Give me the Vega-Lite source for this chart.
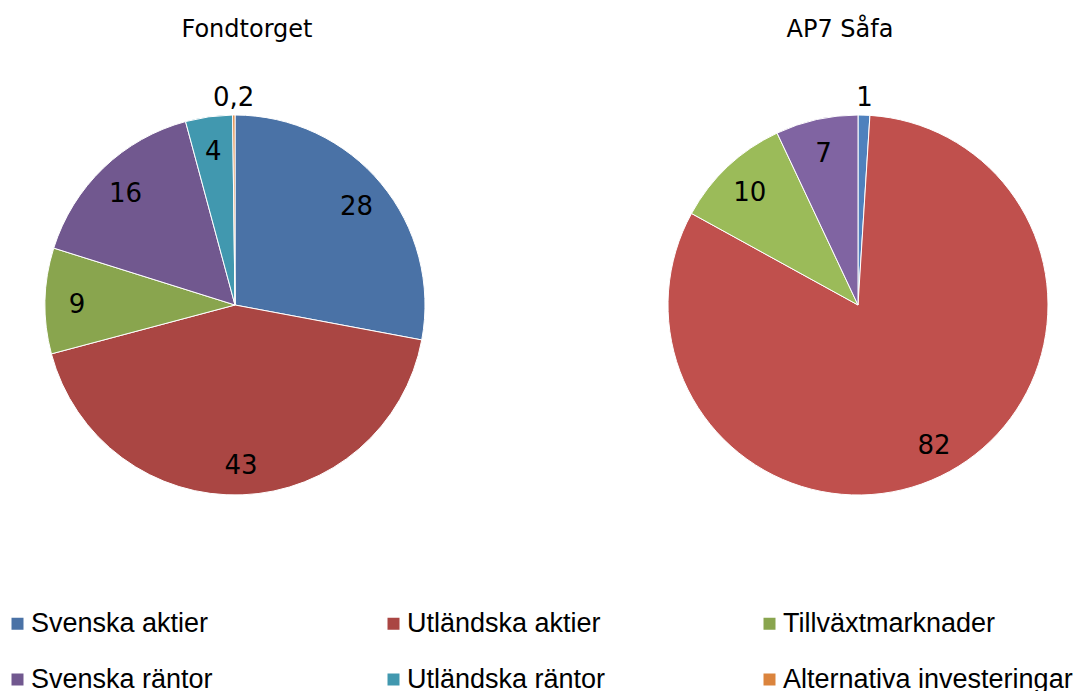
{
  "$schema": "https://vega.github.io/schema/vega-lite/v6.json",
  "background": "white",
  "padding": {"left": 4, "top": 18, "right": 0, "bottom": 0},
  "config": {"view": {"stroke": null}, "font": "DejaVu Sans"},
  "datasets": {
    "fond": [
      {"kategori": "Svenska aktier", "andel": 28, "etikett": "28", "ordning": 1},
      {"kategori": "Utländska aktier", "andel": 43, "etikett": "43", "ordning": 2},
      {"kategori": "Tillväxtmarknader", "andel": 9, "etikett": "9", "ordning": 3},
      {"kategori": "Svenska räntor", "andel": 16, "etikett": "16", "ordning": 4},
      {"kategori": "Utländska räntor", "andel": 4, "etikett": "4", "ordning": 5},
      {"kategori": "Alternativa investeringar", "andel": 0.2, "etikett": "0,2", "ordning": 6}
    ],
    "ap7": [
      {"kategori": "Svenska aktier", "andel": 1, "etikett": "1", "ordning": 1},
      {"kategori": "Utländska aktier", "andel": 82, "etikett": "82", "ordning": 2},
      {"kategori": "Tillväxtmarknader", "andel": 10, "etikett": "10", "ordning": 3},
      {"kategori": "Svenska räntor", "andel": 7, "etikett": "7", "ordning": 4}
    ]
  },
  "bounds": "flush",
  "hconcat": [
    {
      "width": 380,
      "height": 380,
      "data": {"name": "fond"},
      "title": {"text": "Fondtorget", "fontSize": 24, "font": "DejaVu Sans", "fontWeight": "normal", "color": "black", "dx": 12, "offset": 43},
      "encoding": {
        "theta": {"field": "andel", "type": "quantitative", "stack": true},
        "order": {"field": "ordning", "type": "quantitative"}
      },
      "layer": [
        {
          "mark": {"type": "arc", "outerRadius": 190, "stroke": "white", "strokeWidth": 1},
          "encoding": {
            "color": {
              "field": "kategori",
              "type": "nominal",
              "scale": {
                "domain": ["Svenska aktier", "Utländska aktier", "Tillväxtmarknader", "Svenska räntor", "Utländska räntor", "Alternativa investeringar"],
                "range": ["#4A72A6", "#AA4643", "#89A54E", "#71588F", "#4198AF", "#DB843D"]
              },
              "legend": {
                "orient": "none", "legendX": -41, "legendY": 495,
                "columns": 3, "gridAlign": "all", "columnPadding": 59, "rowPadding": 28,
                "direction": "horizontal", "title": null,
                "symbolType": "square", "symbolSize": 144, "symbolStrokeWidth": 0,
                "labelFont": "Liberation Sans", "labelFontSize": 27, "labelColor": "black",
                "labelOffset": 0, "labelLimit": 400, "padding": 0
              }
            }
          }
        },
        {
          "mark": {"type": "text", "radius": 158, "fontSize": 26, "font": "DejaVu Sans", "color": "black", "dy": 3},
          "encoding": {"text": {"condition": {"test": "datum.andel >= 2", "field": "etikett"}, "value": ""}}
        },
        {
          "mark": {"type": "text", "radius": 207, "fontSize": 26, "font": "DejaVu Sans", "color": "black"},
          "encoding": {"text": {"condition": {"test": "datum.andel < 2", "field": "etikett"}, "value": ""}}
        }
      ]
    },
    {
      "width": 380,
      "height": 380,
      "data": {"name": "ap7"},
      "title": {"text": "AP7 Såfa", "fontSize": 24, "font": "DejaVu Sans", "fontWeight": "normal", "color": "black", "dx": -18, "offset": 43},
      "encoding": {
        "theta": {"field": "andel", "type": "quantitative", "stack": true},
        "order": {"field": "ordning", "type": "quantitative"}
      },
      "layer": [
        {
          "mark": {"type": "arc", "outerRadius": 190, "stroke": "white", "strokeWidth": 1},
          "encoding": {
            "color": {
              "field": "kategori",
              "type": "nominal",
              "scale": {
                "domain": ["Svenska aktier", "Utländska aktier", "Tillväxtmarknader", "Svenska räntor"],
                "range": ["#4F81BD", "#C0504D", "#9BBB59", "#8064A2"]
              },
              "legend": null
            }
          }
        },
        {
          "mark": {"type": "text", "radius": 158, "fontSize": 26, "font": "DejaVu Sans", "color": "black", "dy": 3},
          "encoding": {"text": {"condition": {"test": "datum.andel >= 2", "field": "etikett"}, "value": ""}}
        },
        {
          "mark": {"type": "text", "radius": 207, "fontSize": 26, "font": "DejaVu Sans", "color": "black"},
          "encoding": {"text": {"condition": {"test": "datum.andel < 2", "field": "etikett"}, "value": ""}}
        }
      ]
    }
  ],
  "spacing": 243,
  "resolve": {"scale": {"color": "independent", "theta": "independent"}}
}
